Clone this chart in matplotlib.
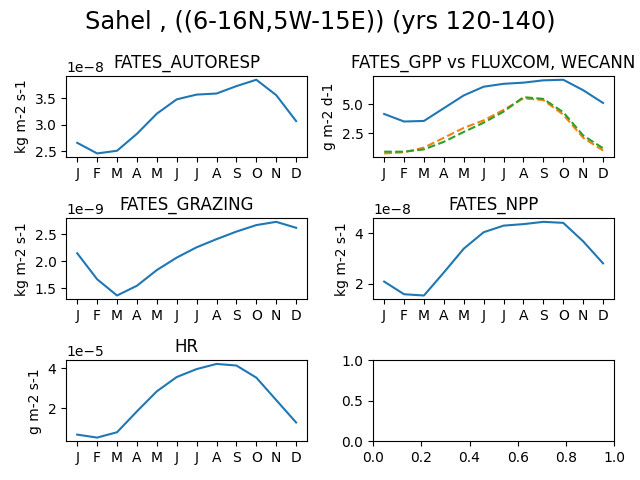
import matplotlib
matplotlib.use("Agg")
import matplotlib.pyplot as plt
import numpy as np

months = ["J", "F", "M", "A", "M", "J", "J", "A", "S", "O", "N", "D"]

autoresp = [2.66e-8, 2.46e-8, 2.51e-8, 2.83e-8, 3.21e-8, 3.48e-8, 3.57e-8, 3.59e-8, 3.73e-8, 3.85e-8, 3.56e-8, 3.07e-8]
gpp_fates = [4.15, 3.50, 3.55, 4.65, 5.75, 6.50, 6.75, 6.85, 7.05, 7.10, 6.20, 5.10]
gpp_fluxcom = [0.75, 0.85, 1.25, 2.10, 2.95, 3.60, 4.50, 5.50, 5.35, 4.10, 2.10, 1.00]
gpp_wecann = [0.90, 0.90, 1.10, 1.75, 2.60, 3.40, 4.35, 5.60, 5.45, 4.30, 2.30, 1.20]
grazing = [2.15e-9, 1.67e-9, 1.37e-9, 1.55e-9, 1.84e-9, 2.07e-9, 2.26e-9, 2.41e-9, 2.55e-9, 2.67e-9, 2.73e-9, 2.62e-9]
npp = [2.09e-8, 1.59e-8, 1.54e-8, 2.45e-8, 3.39e-8, 4.04e-8, 4.30e-8, 4.36e-8, 4.45e-8, 4.41e-8, 3.68e-8, 2.81e-8]
hr = [0.67e-5, 0.52e-5, 0.79e-5, 1.84e-5, 2.85e-5, 3.57e-5, 3.97e-5, 4.23e-5, 4.15e-5, 3.54e-5, 2.41e-5, 1.28e-5]

x = np.arange(len(months))
fig, axes = plt.subplots(3, 2, figsize=(6.4, 4.8), dpi=100)
fig.suptitle("Sahel , ((6-16N,5W-15E)) (yrs 120-140)", fontsize="xx-large")

def setup(ax, title, ylabel):
    ax.set_title(title)
    ax.set_ylabel(ylabel)
    ax.set_xticks(x)
    ax.set_xticklabels(months)

ax = axes[0, 0]
ax.plot(x, autoresp)
setup(ax, "FATES_AUTORESP", "kg m-2 s-1")

ax = axes[0, 1]
ax.plot(x, gpp_fates)
ax.plot(x, gpp_fluxcom, linestyle="--")
ax.plot(x, gpp_wecann, linestyle="--")
setup(ax, "FATES_GPP vs FLUXCOM, WECANN", "g m-2 d-1")

ax = axes[1, 0]
ax.plot(x, grazing)
setup(ax, "FATES_GRAZING", "kg m-2 s-1")

ax = axes[1, 1]
ax.plot(x, npp)
setup(ax, "FATES_NPP", "kg m-2 s-1")

ax = axes[2, 0]
ax.plot(x, hr)
setup(ax, "HR", "g m-2 s-1")

fig.tight_layout()
fig.savefig("out.png")
